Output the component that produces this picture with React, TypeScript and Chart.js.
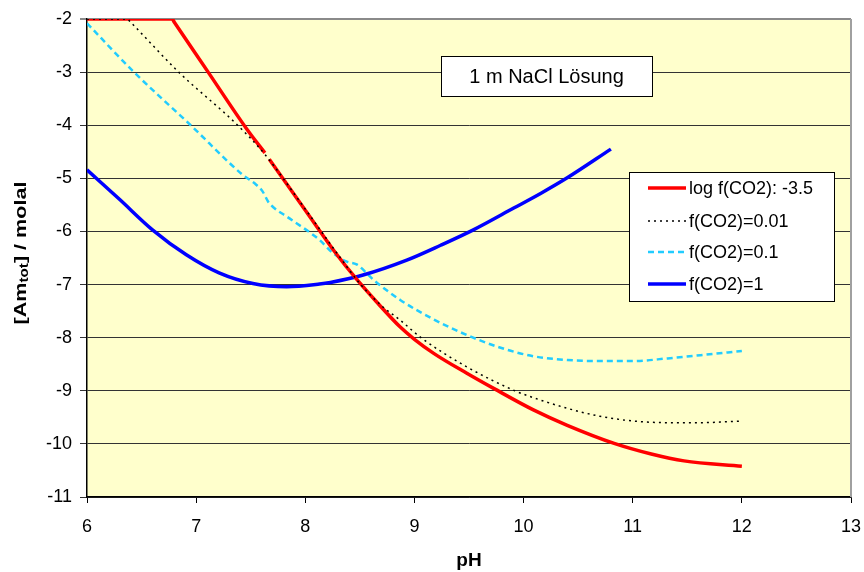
import React, { useEffect, useRef } from "react";
import { Chart, registerables } from "chart.js";
Chart.register(...registerables);

// ---- data ----
const xMin = 6;
const xMax = 13;
const yMin = -11;
const yMax = -2;

const seriesLabels = ["log f(CO2): -3.5", "f(CO2)=0.01", "f(CO2)=0.1", "f(CO2)=1"];

// red: log f(CO2) = -3.5 (null = small break in the line)
const redPH = [6, 6.78, 6.8, 7.11, 7.47, 7.63, 7.65, 7.67, 8.0, 8.28, 8.47, 8.65, 8.87, 9.0, 9.18, 9.48, 9.73, 10.09, 10.4, 10.83, 11.17, 11.47, 12];
const redVal: (number | null)[] = [-2, -2, -2.06, -3, -4.09, -4.52, null, -4.64, -5.6, -6.41, -6.9, -7.32, -7.8, -8.03, -8.3, -8.67, -8.96, -9.36, -9.65, -9.99, -10.19, -10.32, -10.42];

// black dotted: f(CO2) = 0.01
const dotPH = [6, 6.37, 6.39, 6.84, 7.38, 7.63, 8.0, 8.28, 8.5, 8.7, 8.87, 9.06, 9.48, 9.92, 10.09, 10.4, 10.7, 11.01, 11.32, 11.62, 12];
const dotVal = [-2, -2, -2.04, -3, -4, -4.55, -5.58, -6.38, -6.98, -7.4, -7.67, -8.0, -8.55, -9.0, -9.13, -9.33, -9.48, -9.57, -9.6, -9.6, -9.57];

// cyan dashed: f(CO2) = 0.1
const cyanPH = [6, 6.43, 6.95, 7.43, 7.55, 7.61, 7.66, 7.71, 7.83, 8.13, 8.25, 8.38, 8.47, 8.63, 8.87, 9.18, 9.48, 9.79, 10.09, 10.4, 10.7, 11.01, 11.32, 11.62, 12];
const cyanVal = [-2.08, -3, -4, -4.94, -5.12, -5.25, -5.44, -5.55, -5.72, -6.16, -6.4, -6.57, -6.62, -6.92, -7.29, -7.66, -7.95, -8.19, -8.35, -8.42, -8.44, -8.44, -8.39, -8.33, -8.25];

// blue: f(CO2) = 1
const bluePH = [6, 6.3, 6.6, 6.91, 7.21, 7.52, 7.83, 8.13, 8.23, 8.53, 8.93, 9.24, 9.54, 9.91, 10.16, 10.4, 10.8];
const blueVal = [-4.84, -5.4, -5.97, -6.44, -6.78, -6.98, -7.04, -6.99, -6.96, -6.82, -6.54, -6.26, -5.97, -5.56, -5.28, -4.99, -4.45];

const annotationText = "1 m NaCl Lösung";
const xTitle = "pH";
const yTitleParts = ["[Am", "tot", "] / molal"];

const FONT = "'Liberation Sans', Arial, sans-serif";

const toPts = (xs: number[], ys: (number | null)[]) => xs.map((x, i) => ({ x, y: ys[i] }));

const decorPlugin = {
  id: "decor",
  beforeDraw(chart: any) {
    const { ctx, chartArea: a } = chart;
    ctx.save();
    ctx.fillStyle = "#FFFFCC";
    ctx.fillRect(a.left, a.top, a.right - a.left, a.bottom - a.top);
    ctx.restore();
  },
  afterDraw(chart: any) {
    const { ctx, chartArea: a } = chart;
    ctx.save();
    // plot frame right (gray)
    ctx.strokeStyle = "#a0a0a0";
    ctx.lineWidth = 2;
    ctx.beginPath();
    ctx.moveTo(a.right, a.top);
    ctx.lineTo(a.right, a.bottom);
    ctx.stroke();

    // annotation box
    ctx.fillStyle = "#ffffff";
    ctx.fillRect(441, 56, 211, 40);
    ctx.strokeStyle = "#000";
    ctx.lineWidth = 1;
    ctx.strokeRect(441.5, 56.5, 211, 40);
    ctx.fillStyle = "#000";
    ctx.font = `20px ${FONT}`;
    ctx.textAlign = "center";
    ctx.textBaseline = "middle";
    ctx.fillText(annotationText, 546.5, 77);

    // legend
    ctx.fillStyle = "#ffffff";
    ctx.fillRect(629, 172, 205, 129);
    ctx.strokeStyle = "#000";
    ctx.lineWidth = 1;
    ctx.strokeRect(629.5, 172.5, 205, 129);
    const ys = [188, 221, 252, 284];
    chart.data.datasets.forEach((ds: any, i: number) => {
      const y = ys[i];
      ctx.save();
      ctx.strokeStyle = ds.borderColor;
      ctx.lineWidth = ds.borderWidth;
      ctx.setLineDash(ds.borderDash || []);
      ctx.beginPath();
      ctx.moveTo(648, y);
      ctx.lineTo(686, y);
      ctx.stroke();
      ctx.restore();
      ctx.fillStyle = "#000";
      ctx.font = `18px ${FONT}`;
      ctx.textAlign = "left";
      ctx.textBaseline = "middle";
      ctx.fillText(ds.label, 689, y + 1);
    });

    // x title
    ctx.fillStyle = "#000";
    ctx.font = `bold 19px ${FONT}`;
    ctx.textAlign = "center";
    ctx.textBaseline = "alphabetic";
    ctx.fillText(xTitle, (a.left + a.right) / 2, 566);

    // y title (rotated, with subscript)
    const mainFont = `bold 17px ${FONT}`;
    const subFont = `bold 12px ${FONT}`;
    ctx.font = mainFont;
    const w1 = ctx.measureText(yTitleParts[0]).width;
    const w3 = ctx.measureText(yTitleParts[2]).width;
    ctx.font = subFont;
    const w2 = ctx.measureText(yTitleParts[1]).width;
    const total = w1 + w2 + w3;
    const s = 143 / total;
    ctx.translate(21, 253);
    ctx.rotate(-Math.PI / 2);
    ctx.scale(s, 1);
    ctx.textAlign = "left";
    ctx.textBaseline = "middle";
    let x = -total / 2;
    ctx.font = mainFont;
    ctx.fillText(yTitleParts[0], x, 0);
    x += w1;
    ctx.font = subFont;
    ctx.fillText(yTitleParts[1], x, 4);
    x += w2;
    ctx.font = mainFont;
    ctx.fillText(yTitleParts[2], x, 0);
    ctx.restore();
  },
};

export default function App() {
  const ref = useRef<HTMLCanvasElement | null>(null);
  useEffect(() => {
    document.body.style.margin = "0";
    const canvas = ref.current!;
    const common = { pointRadius: 0, cubicInterpolationMode: "monotone", spanGaps: false };
    const chart = new Chart(canvas, {
      type: "line",
      data: {
        datasets: [
          { ...common, label: seriesLabels[0], data: toPts(redPH, redVal), borderColor: "#FF0000", borderWidth: 3.5, order: 1 },
          { ...common, label: seriesLabels[1], data: toPts(dotPH, dotVal), borderColor: "#000000", borderWidth: 1.5, borderDash: [2, 4], order: 0 },
          { ...common, label: seriesLabels[2], data: toPts(cyanPH, cyanVal), borderColor: "#22CCFF", borderWidth: 2.5, borderDash: [6, 4], order: 3 },
          { ...common, label: seriesLabels[3], data: toPts(bluePH, blueVal), borderColor: "#0000FF", borderWidth: 3.5, order: 2 },
        ] as any,
      },
      options: {
        animation: false,
        responsive: false,
        devicePixelRatio: 1,
        layout: { padding: { top: 19, right: 13, left: 0, bottom: 0 } },
        plugins: { legend: { display: false }, tooltip: { enabled: false } },
        scales: {
          x: {
            type: "linear",
            min: xMin,
            max: xMax,
            afterFit: (sc: any) => {
              sc.height = 75;
              sc.paddingRight = 0;
              sc.paddingLeft = 0;
            },
            ticks: {
              stepSize: 1,
              color: "#000",
              font: { family: FONT, size: 18 },
              padding: 13,
              maxRotation: 0,
            },
            grid: { drawOnChartArea: false, drawTicks: true, tickLength: 6, color: "#000" },
            border: { color: "#000", width: 1.5 },
          },
          y: {
            type: "linear",
            min: yMin,
            max: yMax,
            afterFit: (sc: any) => {
              sc.width = 87;
              sc.paddingTop = 0;
              sc.paddingBottom = 0;
            },
            ticks: {
              stepSize: 1,
              color: "#000",
              font: { family: FONT, size: 18 },
              padding: 8,
            },
            grid: {
              drawOnChartArea: true,
              drawTicks: true,
              tickLength: 7,
              color: (c: any) => (c.tick && c.tick.value === yMax ? "#8a8a8a" : "#333"),
              lineWidth: (c: any) => (c.tick && c.tick.value === yMax ? 2 : 1),
            },
            border: { color: "#000", width: 1.5 },
          },
        },
      },
      plugins: [decorPlugin],
    });
    return () => chart.destroy();
  }, []);
  return <canvas ref={ref} width={864} height={572} style={{ display: "block" }} />;
}
